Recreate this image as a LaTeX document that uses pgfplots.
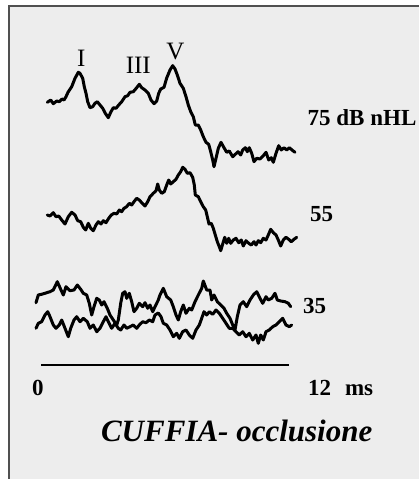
\documentclass[border=0pt]{standalone}
\usepackage{fontspec}
\setmainfont{Liberation Serif}
\usepackage{pgfplots}
\pgfplotsset{compat=1.18}
\definecolor{bggrey}{HTML}{EDEDED}
\definecolor{framegrey}{HTML}{505050}
\begin{document}
\begin{tikzpicture}
\begin{axis}[
  scale only axis, width=419bp, height=479bp,
  xmin=0, xmax=419, ymin=0, ymax=479, y dir=reverse,
  axis lines=none, clip=false,
]
% background and frame
\fill[white] (axis cs:0,0) rectangle (axis cs:419,479);
\fill[bggrey] (axis cs:9,6) rectangle (axis cs:419,479);
\draw[framegrey, line width=1.3bp] (axis cs:9,479) -- (axis cs:9,6) -- (axis cs:419,6);

% 75 dB nHL
\addplot[black, line width=3bp, line join=round, line cap=round] coordinates {
(47.3,102.3) (50.7,100) (53.3,103.7) (56.7,101) (59.3,101.7) (62,99) (64,100) (66,96.7) (68,92.3) (71.7,86.7) (75,78.3) (78.3,72.3) (80,73.3) (82.7,78.3) (84.3,86.7) (86,93.3) (87.7,101.7) (90,107.7) (92.7,106.7) (95,103.3) (97.3,101.7) (100,105) (102.7,108.3) (105.3,113.3) (108.3,117.7) (110.7,112.3) (113.3,107.7) (116,108.3) (118.7,105) (121.7,101.7) (125,96.7) (127.7,95.7) (130,92.3) (133.3,91.7) (136.7,87.7) (139.3,84.3) (141.7,87.7) (145,90) (148.3,93.3) (151,100) (154,103.7) (156.7,101) (158.7,93.3) (160.7,89) (164,87.3) (166.7,78) (170,70) (172.7,65.7) (175,69) (177.3,75) (180,83.3) (183.3,88.3) (186,96.7) (188.3,105) (190.7,111.7) (193.3,116.7) (195.3,125) (198.3,125) (200.7,130) (203.3,136.7) (206,142.3) (208.7,144.3) (210.7,151.7) (212.7,160) (214,166.7) (216,158.3) (218.3,148.3) (221,142.3) (224,147.7) (226.7,152.3) (229.3,151) (232.7,156.7) (235.3,154.3) (238,151.7) (240.7,155) (242.7,150) (245.3,147.7) (247.3,151.7) (249.3,147.7) (251.7,153.3) (254,161.7) (256.7,158.3) (260,159) (263.3,155.7) (266,152.3) (268.7,160) (271.3,157.7) (273.3,162.3) (276,153.3) (278.7,145.7) (281.3,150) (284,147.7) (286.7,150) (289.3,147.7) (292,150) (295,152.3)
};

% 55
\addplot[black, line width=3bp, line join=round, line cap=round] coordinates {
(47.3,215) (50,216) (53.3,212.7) (56,216.7) (58.7,216) (61.7,220) (65,224) (68.3,216.7) (71.7,212.3) (75,215) (77.7,220.7) (80.7,221.7) (83.3,227.3) (85.7,230) (88.3,223.3) (90.7,228.3) (93.3,230.7) (96,225) (98.3,221.7) (101,224) (103.3,220.7) (106,222.7) (108.7,218.3) (111.3,215) (114,213.3) (116.7,214) (119.3,210) (121.7,211.7) (124,208.3) (126.7,206.7) (129.3,203.3) (131.7,205) (134,201.7) (136.7,198.3) (139.3,200) (141.7,202.7) (145,206) (147.7,201.7) (150,196.7) (153.3,193.3) (156,190.7) (157.7,184) (159.3,190) (161.7,193.3) (164.3,191.7) (166.7,185) (168.7,180) (170.7,184) (173.3,181.7) (176,179.3) (178.3,175) (180.7,171.7) (182.7,167.3) (185,169.3) (187.3,173.3) (190,172.7) (192.7,177.3) (194.3,185) (195.3,195) (198.3,196.7) (200.7,201.7) (203.3,206.7) (205.7,210) (207.3,216.7) (209,224) (211.3,223.3) (213.3,228.3) (215.3,235) (217.3,241.7) (219.3,246.7) (220.7,250.7) (222.7,244) (224.7,237.3) (226.7,243.3) (228.7,238.3) (230.7,243.3) (233.3,240) (236,238.3) (238.7,242.7) (241.3,240) (243.3,246) (246,240.7) (248.7,243.3) (251.3,245) (254,241.7) (256,245) (258.3,240.7) (260.7,242.7) (263.3,238.3) (266,240) (268.3,235) (270.7,229.3) (273.3,232.7) (276,235) (278.3,240) (280.7,246) (283.3,240) (286,237.3) (288.7,239.3) (291.3,241.7) (294,239.3) (296.7,237.3)
};

% 35 (upper)
\addplot[black, line width=3bp, line join=round, line cap=round] coordinates {
(36,302.7) (38.3,295) (42.7,294) (46.7,292.7) (50,291.7) (53.3,290) (57.3,281.7) (60.7,289.3) (63.3,295) (66,286.7) (70,290.7) (74,290) (77.3,285) (80.7,289.3) (83.3,293.3) (86.7,295) (89.3,303.3) (91.7,315) (94,306.7) (96.7,298.3) (99.3,300) (101.7,305) (104,301.7) (107.3,308.3) (110,315) (113.3,320) (116.7,325) (118.3,320) (120.7,303.3) (122.7,293.3) (125,291.7) (126.7,298.3) (129.3,293.3) (131.7,301.7) (134,311.7) (136.7,308.3) (139.3,303.3) (142.7,306.7) (145,302.7) (147.7,308.3) (150,305) (152.7,311.7) (155,306.7) (158.3,300) (160,295) (163.3,288.3) (166.7,296.7) (170.7,300) (173.3,306.7) (176,315) (178.3,320) (180.7,311.7) (183.3,305) (186,313.3) (189.3,308.3) (191.7,310) (195,301.7) (198.3,295) (201.7,288.3) (203.3,281) (206.7,290) (210,290) (211.7,300) (214,295) (217.3,301.7) (220.7,305) (224,308.3) (226.7,313.3) (230,318.3) (232.7,325) (235,330) (237.3,316.7) (240,305) (243.3,301.7) (246.7,306.7) (250,300) (253.3,295) (256.7,291.7) (260,298.3) (262.7,303.3) (266,296.7) (268.3,300) (271.7,298.3) (275,293.3) (277.3,300) (280.7,301) (285,301.7) (288.3,303.3) (290.7,306.7)
};

% 35 (lower)
\addplot[black, line width=3bp, line join=round, line cap=round] coordinates {
(36,328.3) (38.3,323.3) (41.7,321.7) (45,315) (47.7,311.7) (50,316.7) (53.3,325) (56,328.3) (59.3,325) (61.7,320) (65,328.3) (68.3,336.7) (70.7,328.3) (74,320) (76.7,316.7) (80,321.7) (83.3,318.3) (87.3,321.7) (90,328.3) (93.3,325) (96.7,331.7) (100,328.3) (103.3,321.7) (106,316.7) (108.3,321.7) (111.7,328.3) (115,323.3) (118.3,328.3) (120.7,330) (124,325) (126.7,328.3) (130,326.7) (133.3,325) (136.7,328.3) (139.3,325) (142.7,321.7) (146,322.7) (149.3,320) (152.7,321.7) (155,315) (158.3,313) (161,316.7) (163.3,323.3) (166.7,325) (170,330) (173.3,336.7) (176.7,333.3) (179.3,338.3) (182.7,331.7) (186,330) (189.3,335) (192.7,338.3) (196,330) (199.3,325) (201.7,318.3) (204,311.7) (206.7,315) (209.3,311.7) (212.7,314.3) (216,310) (219.3,313.3) (222.7,318.3) (226,323.3) (229.3,328.3) (232.7,328.3) (236,331.7) (239.3,335) (242.7,331.7) (246,336.7) (249.3,333.3) (252.7,340) (256,335) (258.3,343.3) (260.7,335) (263.3,340) (266,331.7) (269.3,330) (272.7,326.7) (276,325) (279.3,321.7) (282.7,318.3) (286,325) (289.3,326.7) (291.7,325)
};

% time scale line
\addplot[black, line width=2bp] coordinates {(41,365) (289,365)};

% peak labels
\node[anchor=base, inner sep=0, font=\fontsize{25bp}{29bp}\selectfont] at (axis cs:81.3,66.7) {I};
\node[anchor=base, inner sep=0, font=\fontsize{25bp}{29bp}\selectfont] at (axis cs:138.3,74) {III};
\node[anchor=base, inner sep=0, font=\fontsize{25bp}{29bp}\selectfont] at (axis cs:175.3,60) {V};

% level labels
\node[anchor=base west, inner sep=0, font=\fontsize{23bp}{27bp}\selectfont\bfseries] at (axis cs:307.5,125.7) {75 dB nHL};
\node[anchor=base west, inner sep=0, font=\fontsize{23bp}{27bp}\selectfont\bfseries] at (axis cs:310,221) {55};
\node[anchor=base west, inner sep=0, font=\fontsize{23bp}{27bp}\selectfont\bfseries] at (axis cs:303,313) {35};

% time labels
\node[anchor=base west, inner sep=0, font=\fontsize{23bp}{27bp}\selectfont\bfseries] at (axis cs:32,395) {0};
\node[anchor=base west, inner sep=0, font=\fontsize{23bp}{27bp}\selectfont\bfseries] at (axis cs:308,395) {12\hspace{0.6em}ms};

% title
\node[anchor=base, inner sep=0, font=\fontsize{31bp}{36bp}\selectfont\bfseries\itshape] at (axis cs:236.7,441.7) {CUFFIA- occlusione};
\end{axis}
\pgfresetboundingbox
\path[use as bounding box] (current axis.south west) rectangle (current axis.north east);
\end{tikzpicture}
\end{document}
